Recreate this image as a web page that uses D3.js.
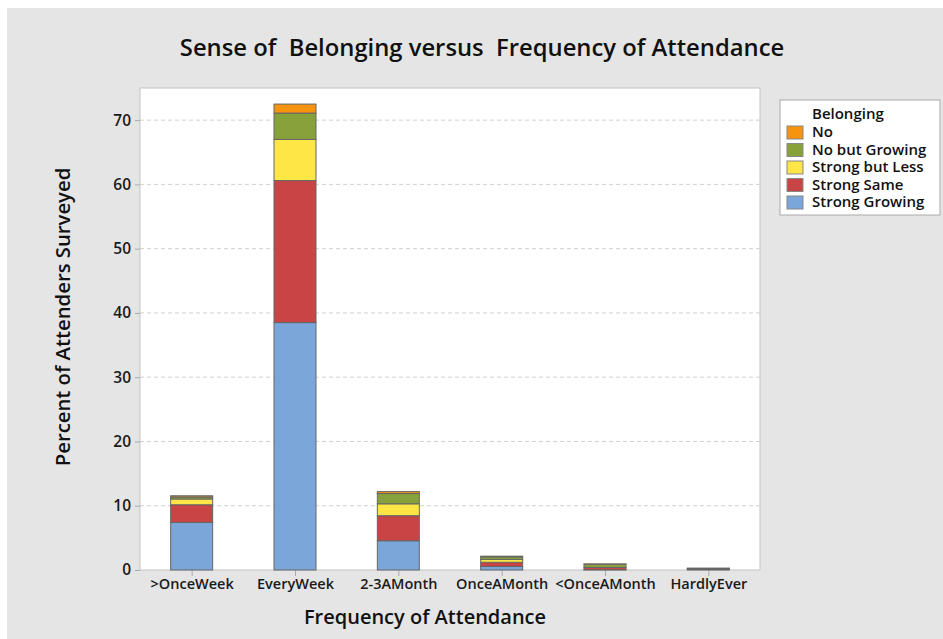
<!DOCTYPE html>
<html><head><meta charset="utf-8">
<script src="https://cdn.jsdelivr.net/npm/d3@7"></script>
<style>body{margin:0;background:#fff;} svg{display:block;font-family:"Open Sans","Noto Sans",sans-serif;}</style>
</head><body><svg id="c" width="943" height="639"></svg>
<script>
const categories = [">OnceWeek","EveryWeek","2-3AMonth","OnceAMonth","<OnceAMonth","HardlyEver"];
const series = ["Strong Growing","Strong Same","Strong but Less","No but Growing","No"];
const strongGrowing = [7.4, 38.5, 4.55, 0.55, 0.05, 0.1];
const strongSame    = [2.75, 22.1, 3.9, 0.65, 0.35, 0.1];
const strongButLess = [0.9, 6.4, 1.85, 0.45, 0.0, 0.0];
const noButGrowing  = [0.3, 4.1, 1.6, 0.4, 0.5, 0.1];
const no            = [0.2, 1.4, 0.3, 0.1, 0.05, 0.0];
const yTicks = [0,10,20,30,40,50,60,70];
const colors = {"Strong Growing":"#7BA6D9","Strong Same":"#C94545","Strong but Less":"#FEE646","No but Growing":"#88A23B","No":"#F6930F"};

const rows = categories.map((c,i)=>({cat:c,"Strong Growing":strongGrowing[i],"Strong Same":strongSame[i],"Strong but Less":strongButLess[i],"No but Growing":noButGrowing[i],"No":no[i]}));
const stack = d3.stack().keys(series)(rows);

const svg = d3.select("#c");
svg.append("rect").attr("x",7).attr("y",8).attr("width",936).attr("height",631).attr("fill","#e5e5e5");

const L=140,R=760,T=88,B=570;
const x = d3.scalePoint().domain(categories).range([L,R]).padding(0.5);
const y = d3.scaleLinear().domain([0,75]).range([B,T]);
const bw = 42;

svg.append("rect").attr("x",L).attr("y",T).attr("width",R-L).attr("height",B-T).attr("fill","#fff").attr("stroke","#c4c4c4");

svg.append("g").selectAll("line").data(yTicks.filter(d=>d>0)).join("line")
  .attr("x1",L).attr("x2",R).attr("y1",d=>y(d)).attr("y2",d=>y(d))
  .attr("stroke","#d0d0d0").attr("stroke-dasharray","4,3");

const yAxis = svg.append("g").attr("transform",`translate(${L},0)`)
  .call(d3.axisLeft(y).tickValues(yTicks).tickSize(5).tickPadding(4));
yAxis.select(".domain").remove();
yAxis.selectAll("line").attr("stroke","#aaa");
yAxis.selectAll("text").attr("font-size",15.5).attr("font-weight",600).attr("fill","#1a1a1a").attr("font-family","Open Sans");

const xAxis = svg.append("g").attr("transform",`translate(0,${B})`)
  .call(d3.axisBottom(x).tickSize(6).tickPadding(3));
xAxis.select(".domain").remove();
xAxis.selectAll("line").attr("stroke","#aaa");
xAxis.selectAll("text").attr("font-size",14.5).attr("font-weight",600).attr("fill","#1a1a1a").attr("font-family","Open Sans");

svg.append("g").selectAll("g").data(stack).join("g").attr("fill",d=>colors[d.key])
  .selectAll("rect").data(d=>d).join("rect")
  .attr("x",d=>x(d.data.cat)-bw/2).attr("width",bw)
  .attr("y",d=>y(d[1])).attr("height",d=>Math.max(0,y(d[0])-y(d[1])))
  .attr("stroke","#666").attr("stroke-width",1);

svg.append("text").attr("x",482).attr("y",56).attr("text-anchor","middle")
  .attr("font-size",23.8).attr("font-weight",600).attr("fill","#111").style("white-space","pre")
  .text("Sense of  Belonging versus  Frequency of Attendance");
svg.append("text").attr("x",425).attr("y",624).attr("text-anchor","middle")
  .attr("font-size",20).attr("font-weight",600).attr("fill","#111").text("Frequency of Attendance");
svg.append("text").attr("transform","translate(70,317) rotate(-90)").attr("text-anchor","middle")
  .attr("font-size",20.3).attr("font-weight",600).attr("fill","#111").text("Percent of Attenders Surveyed");

const lg = svg.append("g");
lg.append("rect").attr("x",780).attr("y",100).attr("width",160).attr("height",115).attr("fill","#fff").attr("stroke","#aaa");
lg.append("text").attr("x",812).attr("y",119).attr("font-size",15).attr("font-weight",600).attr("fill","#111").text("Belonging");
const legendOrder = ["No","No but Growing","Strong but Less","Strong Same","Strong Growing"];
legendOrder.forEach((k,i)=>{
  const yy = 126 + i*17.5;
  lg.append("rect").attr("x",787).attr("y",yy).attr("width",16).attr("height",13).attr("fill",colors[k]).attr("stroke","#888");
  lg.append("text").attr("x",812).attr("y",yy+11).attr("font-size",15).attr("font-weight",600).attr("fill","#111").text(k);
});
</script></body></html>
